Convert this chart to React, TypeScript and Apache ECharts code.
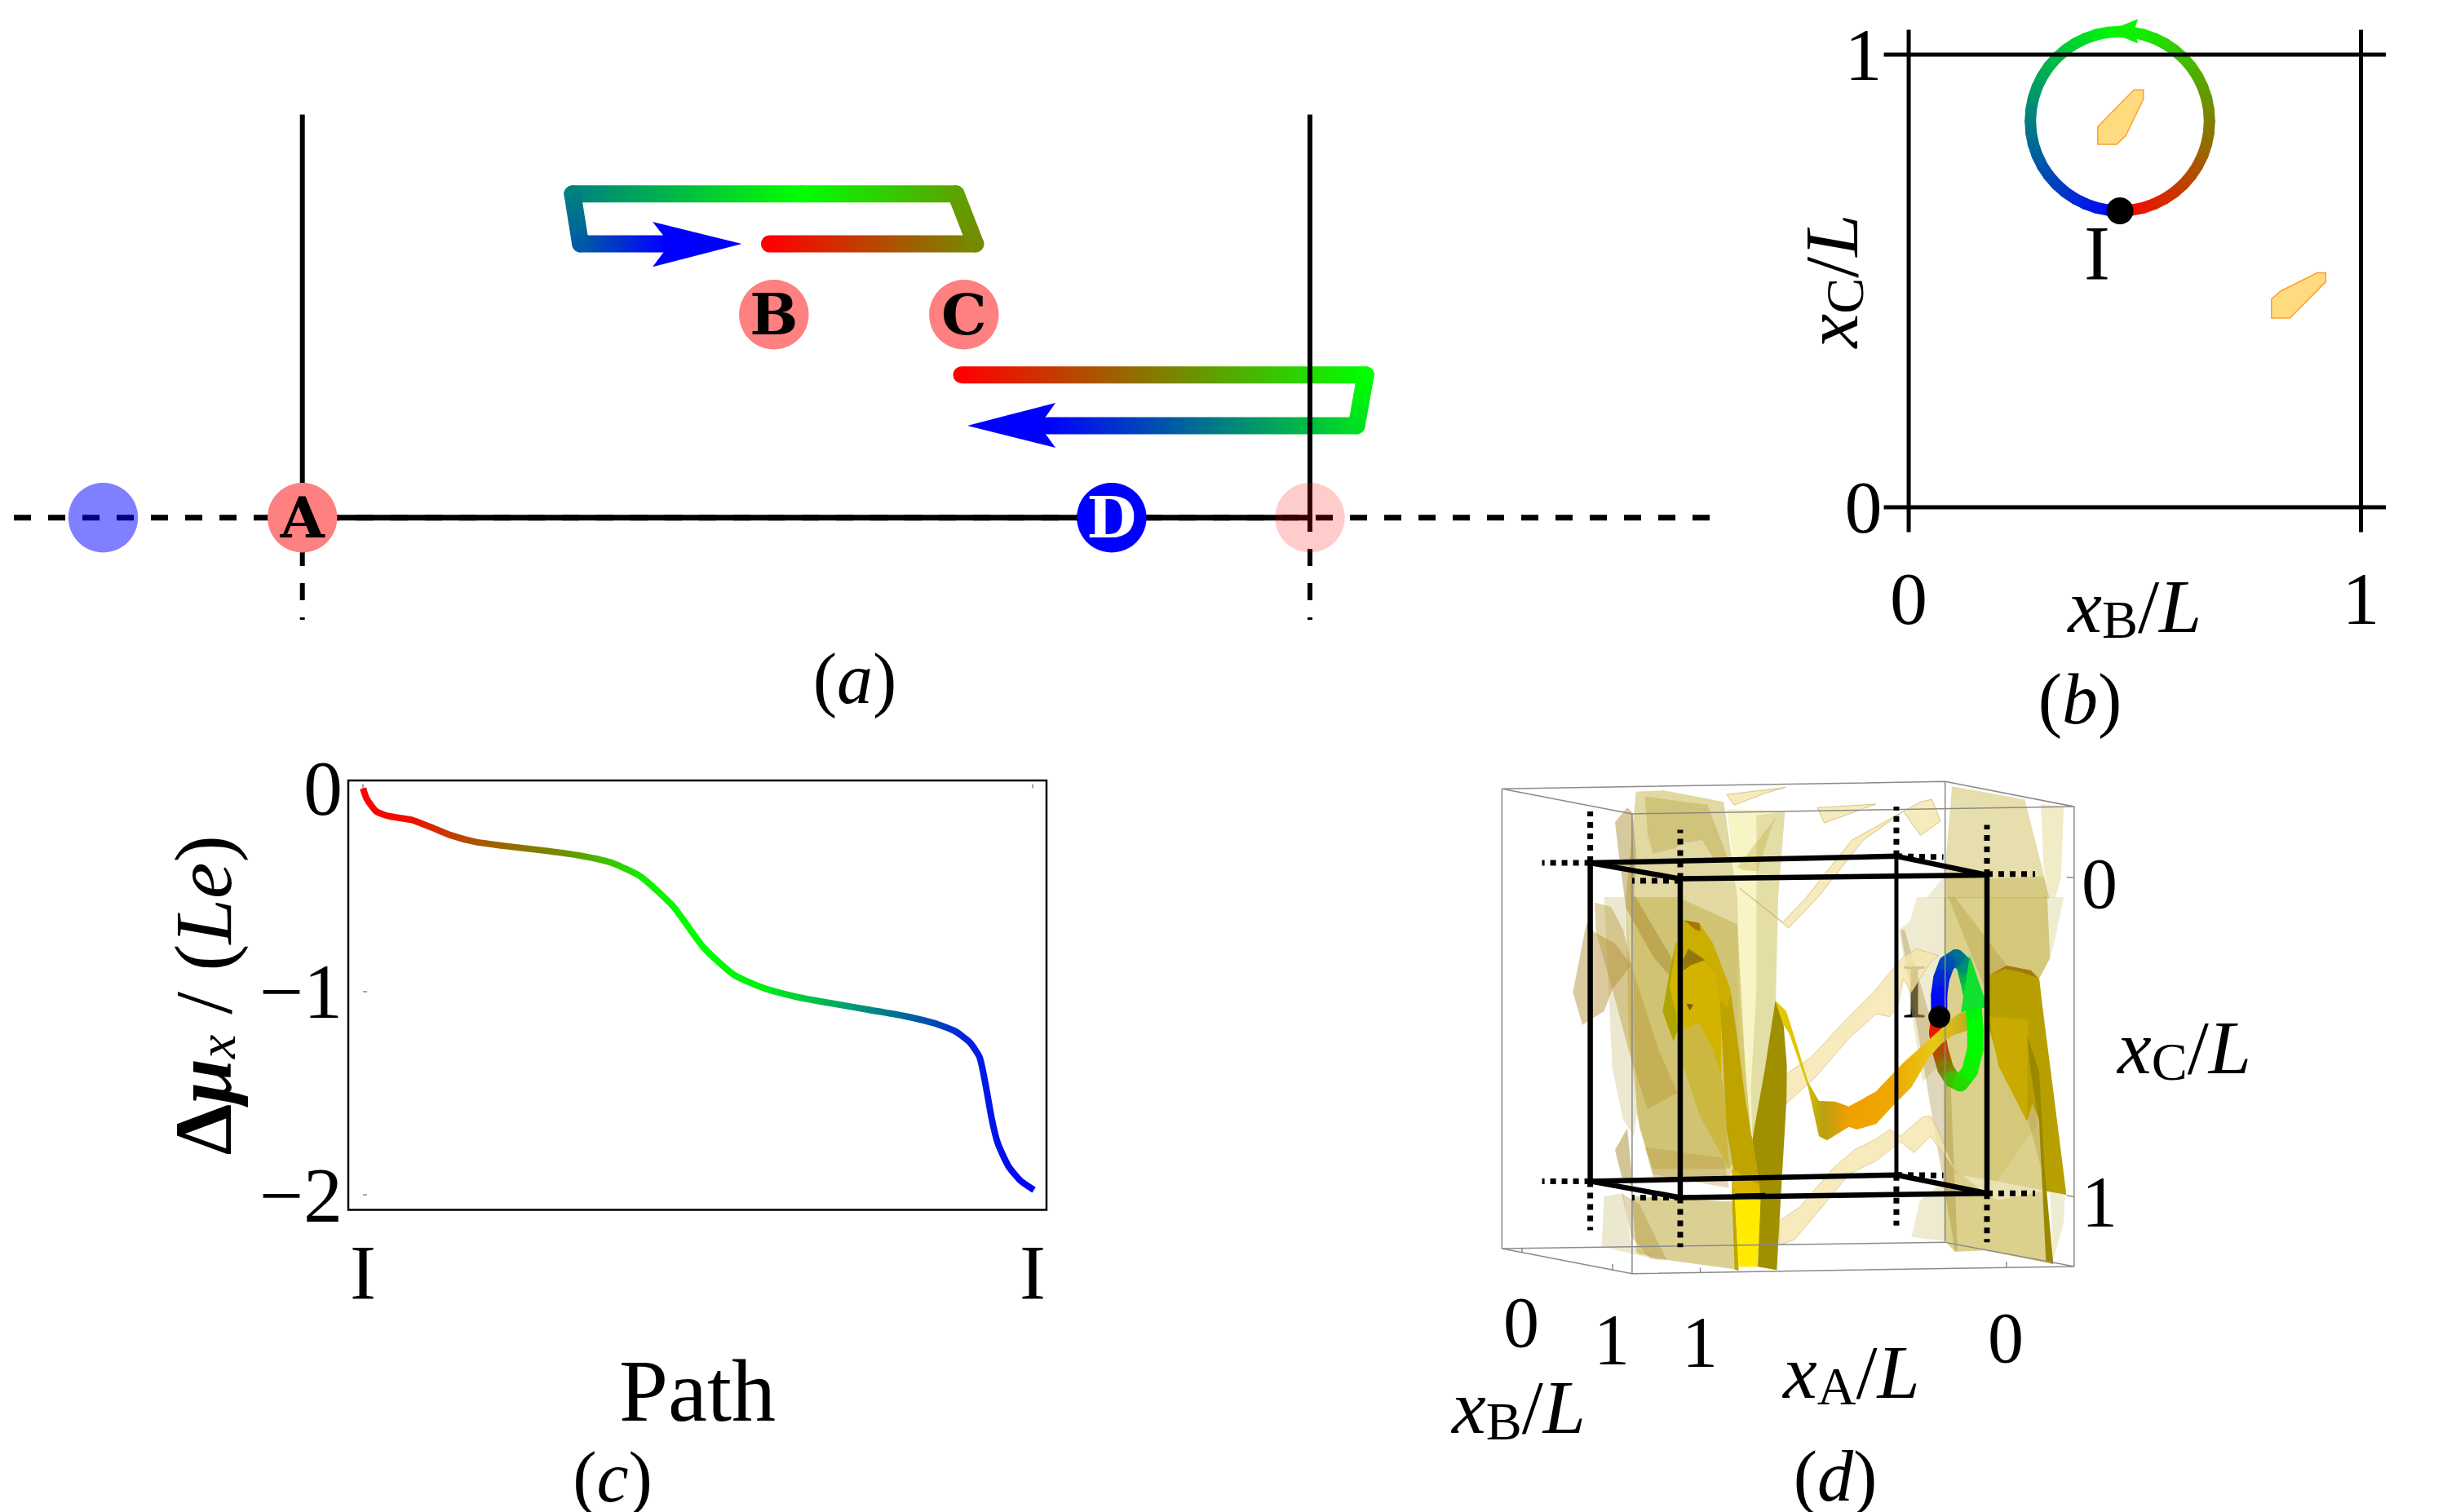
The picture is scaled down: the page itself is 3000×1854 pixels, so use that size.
import React, { useEffect, useRef } from "react";
import * as echarts from "echarts";

const SERIF = "Liberation Serif";

// ---------- panel (a): positions in units of L, heights in the same units ----------
const aBaseX = [0, 1];
const aDashedX = [-0.2863, 1.4015];
const aWallTop = 0.4;
const aWallSolidEnd = -0.014;
const aWallDashes = [[-0.031, -0.048], [-0.065, -0.082], [-0.099, -0.1015]];
const aPathOne = [[0.4636, 0.2718, 0], [0.668, 0.2718, 0.27], [0.6487, 0.3213, 0.32], [0.4953, 0.3213, 0.5], [0.2681, 0.3213, 0.75], [0.276, 0.2718, 0.82], [0.359, 0.2718, 1]];
const aPathTwo = [[0.6543, 0.1417, 0], [1.0553, 0.1417, 0.5], [1.0463, 0.0913, 0.56], [0.7395, 0.0913, 1]];
const aArrowOne = [[0.4362, 0.2718], [0.3476, 0.2936], [0.3647, 0.2718], [0.3476, 0.249]];
const aArrowTwo = [[0.66, 0.0913], [0.7475, 0.114], [0.7316, 0.0913], [0.7475, 0.0694]];
const aCircleX = [-0.1977, 0, 0.468, 0.6566, 0.8032, 1];
const aCircleY = [0, 0, 0.2015, 0.2015, 0, 0];
const aCircleLabels = ["", "A", "B", "C", "D", ""];
const aCircleColors = ["rgba(0,0,255,0.5)", "#ff8080", "#ff8080", "#ff8080", "#0000ff", "rgba(255,0,0,0.2)"];
const aLabelColors = ["#000", "#000", "#000", "#000", "#fff", "#000"];

// ---------- panel (b) ----------
const bTicks = [0, 1];
const bFrameH = [[[-0.055, 0], [1.055, 0]], [[-0.055, 1], [1.055, 1]]];
const bFrameV = [[[0, -0.055], [0, 1.055]], [[1, -0.055], [1, 1.055]]];
const bLoopX = [
  0.467, 0.4928, 0.5183, 0.5428, 0.566, 0.5875, 0.607, 0.6241, 0.6385, 0.6499, 0.6583, 0.6633, 0.665,
  0.6633, 0.6583, 0.6499, 0.6385, 0.6241, 0.607, 0.5875, 0.566, 0.5428, 0.5183, 0.4928, 0.467,
  0.4412, 0.4157, 0.3912, 0.368, 0.3465, 0.327, 0.3099, 0.2955, 0.2841, 0.2757, 0.2707, 0.269,
  0.2707, 0.2757, 0.2841, 0.2955, 0.3099, 0.327, 0.3465, 0.368, 0.3912, 0.4157, 0.4412, 0.467,
];
const bLoopY = [
  0.655, 0.6567, 0.6617, 0.6701, 0.6815, 0.6959, 0.713, 0.7325, 0.754, 0.7772, 0.8017, 0.8272, 0.853,
  0.8788, 0.9043, 0.9288, 0.952, 0.9735, 0.993, 1.0101, 1.0245, 1.0359, 1.0443, 1.0493, 1.051,
  1.0493, 1.0443, 1.0359, 1.0245, 1.0101, 0.993, 0.9735, 0.952, 0.9288, 0.9043, 0.8788, 0.853,
  0.8272, 0.8017, 0.7772, 0.754, 0.7325, 0.713, 0.6959, 0.6815, 0.6701, 0.6617, 0.6567, 0.655,
];
const bArrow = [[0.44, 1.052], [0.507, 1.079], [0.498, 1.052], [0.507, 1.025]];
const bPatchOne = [[0.498, 0.922], [0.519, 0.922], [0.519, 0.902], [0.48, 0.821], [0.46, 0.802], [0.418, 0.802], [0.418, 0.841]];
const bPatchTwo = [[0.903, 0.518], [0.922, 0.518], [0.922, 0.498], [0.843, 0.418], [0.802, 0.418], [0.802, 0.46], [0.823, 0.478]];
const bPoint = [0.467, 0.655];

// ---------- panel (c) ----------
const cX = [0, 0.006, 0.02, 0.038, 0.073, 0.1, 0.132, 0.167, 0.212, 0.275, 0.324, 0.369, 0.414, 0.463, 0.508, 0.554, 0.6, 0.646, 0.696, 0.754, 0.808, 0.852, 0.884, 0.906, 0.921, 0.93, 0.939, 0.948, 0.964, 0.982, 1.002];
const cY = [0, -0.054, -0.114, -0.137, -0.156, -0.189, -0.232, -0.263, -0.284, -0.308, -0.331, -0.364, -0.433, -0.58, -0.781, -0.918, -0.985, -1.025, -1.056, -1.089, -1.12, -1.155, -1.195, -1.25, -1.325, -1.463, -1.628, -1.747, -1.86, -1.931, -1.976];
const cYTicks = [0, -1, -2];
const cXTicks = [0, 1];

// ---------- panel (d): coarse picture units (grid 3) ----------
const dWire = [
  [[130, 63], [903, 48], [1128, 100], [357, 115], [130, 63]],
  [[130, 1018], [357, 1070], [1128, 1055], [903, 1005]],
  [[130, 1018], [903, 1005]],
  [[130, 63], [130, 1018]], [[357, 115], [357, 1070]], [[1128, 100], [1128, 1055]], [[903, 48], [903, 1005]],
  [[1128, 247], [1115, 247]], [[1128, 910], [1115, 908]], [[165, 1018], [165, 1026]], [[323, 1050], [323, 1063]], [[476, 1058], [476, 1067]], [[1010, 1045], [1010, 1056]],
];
const dBoxSolid = [
  [[284, 217], [818, 203], [976, 242], [441, 250], [284, 217]],
  [[284, 878], [818, 865], [976, 903], [441, 912], [284, 878]],
  [[284, 217], [284, 878]],
];
const dBoxFront = [[[441, 250], [441, 912]], [[976, 242], [976, 903]]];
const dBoxThin = [[[818, 203], [818, 865]]];
const dBoxDotted = [
  [[284, 215], [284, 110]], [[284, 878], [284, 980]], [[441, 250], [441, 148]], [[441, 912], [441, 1015]],
  [[818, 203], [818, 100]], [[818, 865], [818, 970]], [[976, 242], [976, 138]], [[976, 903], [976, 1005]],
  [[284, 217], [200, 217]], [[441, 254], [357, 254]], [[818, 203], [900, 205]], [[976, 240], [1060, 240]],
  [[284, 878], [200, 878]], [[441, 912], [357, 912]], [[818, 865], [900, 866]], [[976, 903], [1060, 903]],
];
const dUpperRight = [
  [[915, 58], [1042, 85], [1075, 240], [1085, 290], [905, 290], [905, 200]],
  [[905, 240], [975, 250], [1075, 245], [1085, 290], [905, 290]],
  [[1070, 95], [1110, 100], [1105, 250], [1095, 290], [1085, 290], [1075, 230]],
  [[870, 290], [905, 240], [905, 290]],
];
const dUpperRightColors = ["rgba(205,190,90,0.5)", "rgba(185,165,60,0.35)", "rgba(228,218,140,0.5)", "rgba(215,205,140,0.4)"];
const dUpperRibbons = [
  [[545, 270], [620, 340], [660, 290], [740, 170], [860, 90], [880, 85], [895, 130], [860, 160], [830, 110], [760, 170], [680, 290], [630, 352]],
  [[522, 75], [625, 60], [590, 72], [535, 97]],
  [[680, 102], [782, 95], [720, 122], [692, 134]],
];
const dPointI = [893, 537];

// ---------- panel (d): fine picture units (grid 4) ----------
const dFineSheets = [
  [[317, -388], [420, -392], [640, -350], [690, 0], [700, 400], [720, 640], [740, 880], [660, 1000], [380, 1000], [330, 850], [290, 500], [280, 0], [300, -200]],
  [[650, -325], [865, -315], [840, 0], [832, 340], [830, 650], [745, 880], [690, 600], [690, 0]],
  [[760, -300], [865, -315], [840, 0], [832, 340], [830, 650], [745, 880], [740, 700], [760, 350]],
  [[300, 0], [470, 0], [690, 100], [720, 640], [740, 880], [660, 1030], [380, 1030], [320, 800]],
  [[200, 0], [280, 0], [330, 700], [310, 880], [270, 820], [230, 630]],
  [[165, 20], [225, 35], [270, 120], [300, 250], [400, 560], [470, 720], [360, 780], [300, 600], [230, 340], [170, 130]],
  [[135, 95], [165, 130], [240, 170], [300, 250], [230, 340], [200, 420], [120, 470], [85, 350]],
  [[240, -275], [285, -330], [305, -310], [317, -160], [310, -10], [440, 210], [520, 380], [380, 220], [280, 40], [250, -190]],
  [[350, -370], [580, -340], [660, -130], [610, -130], [560, -210], [500, -200], [460, -180], [380, -160], [360, -230]],
  [[835, -298], [690, -110], [710, -100], [765, -95], [810, -240]],
  [[200, 1100], [270, 1090], [300, 1280], [420, 1340], [190, 1285]],
  [[300, 1100], [670, 1120], [690, 1370], [430, 1335], [320, 1310]],
  [[265, 1090], [330, 1130], [430, 1335], [370, 1330], [300, 1250]],
  [[240, 930], [285, 850], [300, 1000], [300, 1060], [265, 1030]],
  [[350, 920], [640, 960], [660, 1070], [380, 1020]],
  [[1350, 0], [1450, 0], [1450, 600], [1370, 680], [1285, 120], [1325, 90]],
  [[1360, 1120], [1450, 1040], [1450, 1265], [1330, 1250]],
  [[1450, 0], [1830, 0], [1840, 225], [1800, 300], [1900, 1095], [1810, 1080], [1850, 1350], [1600, 1300], [1490, 1305], [1450, 1260]],
  [[1610, 0], [1830, 0], [1840, 225], [1800, 300], [1820, 800], [1610, 1090]],
  [[1830, 0], [1890, 0], [1860, 150], [1840, 225]],
  [[1840, 1085], [1895, 1095], [1890, 1200], [1850, 1340]],
  [[1520, 1025], [1620, 1040], [1820, 1080], [1650, 1115], [1610, 1095]],
  [[1290, 120], [1305, 120], [1475, 700], [1500, 1300], [1490, 1300]],
  [[1465, 0], [1490, 0], [1680, 250], [1810, 900], [1825, 1060], [1680, 530]],
];
const dFineSheetColors = [
  "rgba(196,178,70,0.5)", "rgba(240,235,150,0.55)", "rgba(190,180,110,0.35)", "rgba(190,170,60,0.45)", "rgba(200,190,120,0.35)",
  "rgba(180,150,50,0.42)", "rgba(180,145,55,0.48)", "rgba(165,135,40,0.45)", "rgba(175,155,40,0.32)", "rgba(190,170,60,0.35)",
  "rgba(200,190,120,0.35)", "rgba(190,170,60,0.55)", "rgba(170,140,50,0.35)", "rgba(170,140,50,0.5)", "rgba(180,150,60,0.35)",
  "rgba(215,205,140,0.4)", "rgba(215,205,140,0.4)", "rgba(200,185,80,0.65)", "rgba(190,175,70,0.25)", "rgba(215,210,140,0.4)",
  "rgba(215,210,140,0.4)", "rgba(238,232,195,0.75)", "rgba(150,120,30,0.3)", "rgba(170,140,40,0.3)",
];
const dFineRibbons = [
  [[870, 650], [960, 590], [1100, 440], [1200, 340], [1240, 290], [1300, 220], [1350, 190], [1430, 215], [1400, 240], [1330, 350], [1300, 300], [1280, 400], [1250, 440], [1200, 430], [1100, 520], [980, 660], [870, 760]],
  [[845, 1190], [920, 1140], [1040, 1000], [1120, 930], [1200, 890], [1250, 855], [1290, 880], [1370, 810], [1400, 805], [1430, 860], [1470, 960], [1500, 1020], [1460, 960], [1400, 880], [1340, 940], [1290, 900], [1200, 970], [1100, 1020], [1010, 1130], [900, 1260], [845, 1280]],
];
const dFineSolids = [
  [[470, 490], [550, 465], [600, 560], [640, 700], [660, 1000], [550, 800], [470, 560]],
  [[490, 235], [570, 230], [610, 290], [630, 380], [630, 660], [600, 560], [550, 465], [470, 490], [455, 530], [415, 420], [440, 310], [465, 160]],
  [[490, 85], [550, 95], [600, 170], [665, 340], [650, 405], [625, 380], [610, 290], [570, 235], [490, 235]],
  [[465, 160], [455, 240], [440, 330], [465, 430], [470, 490], [455, 530], [415, 420], [440, 280]],
  [[625, 375], [650, 405], [665, 345], [690, 520], [720, 750], [750, 920], [770, 1060], [720, 1075], [680, 1080], [675, 1000], [650, 850], [640, 640]],
  [[495, 85], [550, 95], [555, 125], [535, 120]],
  [[490, 230], [510, 190], [572, 232], [520, 250], [492, 270]],
  [[503, 392], [528, 395], [515, 418]],
  [[670, 1000], [770, 1060], [775, 1115], [680, 1100]],
  [[680, 1100], [775, 1115], [765, 1360], [695, 1360]],
  [[670, 1000], [680, 1100], [695, 1375], [680, 1370], [670, 1100]],
  [[830, 380], [860, 470], [872, 620], [870, 760], [850, 1100], [835, 1372], [765, 1360], [775, 1120], [770, 1060], [745, 890], [790, 640]],
  [[1615, 290], [1680, 252], [1770, 270], [1800, 300], [1815, 430], [1850, 700], [1900, 1095], [1820, 1080], [1805, 830], [1775, 760], [1755, 825], [1650, 600], [1615, 480]],
  [[1615, 440], [1760, 450], [1755, 825], [1650, 620]],
  [[1755, 510], [1800, 640], [1820, 1000], [1852, 1350], [1825, 1340], [1800, 830], [1770, 650]],
  [[1620, 285], [1680, 252], [1770, 270], [1795, 298], [1730, 275], [1675, 265]],
];
const dFineSolidColors = ["rgba(200,176,30,0.6)", "#d2b400", "#ccae00", "#b0a400", "#bfa400", "#a8740a", "#92780c", "#8a5000", "#dcb400", "#ffea00", "#bfa600", "#a09000", "#b89f00", "#c8aa00", "#9a8800", "#a07a10"];
const dFineFrontLine = [[680, 1100], [793, 1098]];
const dFineBand = [[830, 380], [870, 420], [905, 530], [950, 680], [990, 750], [1050, 752], [1100, 770], [1200, 715], [1300, 610], [1400, 520], [1500, 430], [1535, 420], [1538, 490], [1480, 510], [1440, 540], [1395, 590], [1330, 700], [1260, 770], [1200, 835], [1130, 855], [1100, 845], [1020, 895], [990, 880], [950, 700], [880, 500], [860, 470]];
const dFineRingBack = [[1432, 440, 0], [1425, 500, 0.05], [1435, 560, 0.14], [1455, 630, 0.24], [1480, 670, 0.36]];
const dFineRingFront = [[1480, 670, 0.36], [1510, 685, 0.42], [1545, 640, 0.47], [1565, 560, 0.49], [1565, 490, 0.5], [1560, 420, 0.52], [1545, 330, 0.6], [1525, 250, 0.72], [1495, 222, 0.78], [1460, 245, 0.85], [1440, 300, 0.92], [1432, 360, 0.98], [1432, 440, 1]];
const dFineArrow = [[1545, 215], [1612, 410], [1565, 405], [1512, 425]];

const dTickLabels = ["0", "1", "0", "1", "1", "0"];
const dTickLabelX = [2574, 2574, 1865, 1976, 2084, 2459];
const dTickLabelY = [1083, 1473, 1621, 1642, 1645, 1640];
const captionLetters = ["a", "b", "c", "d"];
const captionX = [1048, 2550, 751, 2250];
const captionY = [832, 857, 1811, 1810];

const ramp = (t: number) => {
  const u = Math.max(0, Math.min(1, t));
  const r = u < 0.5 ? 1 - 2 * u : 0;
  const g = u < 0.5 ? 2 * u : 2 - 2 * u;
  const b = u < 0.5 ? 0 : 2 * u - 1;
  return `rgb(${Math.round(r * 255)},${Math.round(g * 255)},${Math.round(b * 255)})`;
};

const line = (g: number, pts: any[], width: number, color = "#000", type: any = "solid", cap = "butt") => ({
  type: "line", xAxisIndex: g, yAxisIndex: g, data: pts, symbol: "none", clip: false, silent: true,
  lineStyle: { width, color, type, cap, join: "round" },
});

const polygon = (g: number, pts: number[][], fill: any, stroke: any = "none", lineWidth = 0) => ({
  type: "custom", xAxisIndex: g, yAxisIndex: g, data: pts, silent: true, clip: false,
  encode: { x: 0, y: 1 },
  renderItem: (params: any, api: any) =>
    params.dataIndex === 0
      ? { type: "polygon", shape: { points: pts.map((p) => api.coord(p)) }, style: { fill, stroke, lineWidth } }
      : null,
});

const gradientPath = (g: number, pts: number[][], width: number) => ({
  type: "custom", xAxisIndex: g, yAxisIndex: g, data: pts, silent: true, clip: false,
  encode: { x: 0, y: 1 },
  renderItem: (params: any, api: any) => {
    const i = params.dataIndex;
    if (i === 0) return null;
    const a = api.coord(pts[i - 1]);
    const b = api.coord(pts[i]);
    const stroke = new echarts.graphic.LinearGradient(a[0], a[1], b[0], b[1], [
      { offset: 0, color: ramp(pts[i - 1][2]) },
      { offset: 1, color: ramp(pts[i][2]) },
    ], true);
    return { type: "line", shape: { x1: a[0], y1: a[1], x2: b[0], y2: b[1] }, style: { stroke, lineWidth: width, lineCap: "round", fill: "none" } };
  },
});

const mathRich = (size: number, sub: number) => ({
  i: { fontFamily: SERIF, fontStyle: "italic", fontSize: size, color: "#000" },
  s: { fontFamily: SERIF, fontSize: sub, color: "#000", padding: [Math.round(size * 0.36), 0, 0, 0] },
  r: { fontFamily: SERIF, fontSize: size, color: "#000" },
});

const mathText = (letter: string, x: number, y: number) => ({
  type: "text", x, y,
  style: { text: `{i|x}{s|${letter}}{r|/}{i|L}`, rich: mathRich(94, 66), align: "center", verticalAlign: "middle", fontFamily: SERIF, fontSize: 94, fill: "#000" },
});

const plainText = (text: string, x: number, y: number, size: number) => ({
  type: "text", x, y,
  style: { text, align: "center", verticalAlign: "middle", fontFamily: SERIF, fontSize: size, fill: "#000" },
});

const caption = (letter: string, x: number, y: number) => ({
  type: "text", x, y,
  style: {
    text: `{r|(}{i|${letter}}{r|)}`,
    rich: { r: { fontFamily: SERIF, fontSize: 88, color: "#000" }, i: { fontFamily: SERIF, fontStyle: "italic", fontSize: 88, color: "#000" } },
    align: "center", verticalAlign: "middle", fontFamily: SERIF, fontSize: 88, fill: "#000",
  },
});

const cGradient = new echarts.graphic.LinearGradient(0, 0, 1, 0, [
  { offset: 0, color: "#ff0000" }, { offset: 0.06, color: "#f50a00" }, { offset: 0.16, color: "#b04f00" }, { offset: 0.3, color: "#6f8f00" },
  { offset: 0.42, color: "#10ee00" }, { offset: 0.5, color: "#00ff00" }, { offset: 0.6, color: "#00ee10" }, { offset: 0.72, color: "#00a070" },
  { offset: 0.82, color: "#0060a0" }, { offset: 0.9, color: "#0020e0" }, { offset: 1, color: "#0000ff" },
]);

const bandGradient = new echarts.graphic.LinearGradient(0, 0, 1, 0, [
  { offset: 0, color: "#e8c800" }, { offset: 0.14, color: "#e0c400" }, { offset: 0.25, color: "#b8a010" }, { offset: 0.38, color: "#f0a000" },
  { offset: 0.62, color: "#f0a800" }, { offset: 0.82, color: "#e8c818" }, { offset: 1, color: "#c4ac20" },
]);

const hiddenAxis = (gridIndex: number, min: number, max: number, inverse = false) => ({
  type: "value", gridIndex, min, max, inverse, show: false, splitLine: { show: false },
});

const buildOption = () => {
  const series: any[] = [];
  // panel (a)
  series.push(line(0, aDashedX.map((x) => [x, 0]), 7, "#000", [21, 21]));
  series.push(line(0, aBaseX.map((x) => [x, 0]), 7));
  aBaseX.forEach((x) => {
    series.push(line(0, [[x, aWallTop], [x, aWallSolidEnd]], 6));
    aWallDashes.forEach((d) => series.push(line(0, d.map((y) => [x, y]), 6)));
  });
  series.push(gradientPath(0, aPathOne, 21));
  series.push(polygon(0, aArrowOne, "#0000ff"));
  series.push(gradientPath(0, aPathTwo, 21));
  series.push(polygon(0, aArrowTwo, "#0000ff"));
  series.push({
    type: "scatter", xAxisIndex: 0, yAxisIndex: 0, symbol: "circle", symbolSize: 85.5, silent: true, clip: false, z: 3,
    data: aCircleX.map((x, i) => ({
      value: [x, aCircleY[i]],
      itemStyle: { color: aCircleColors[i], opacity: 1 },
      label: {
        show: aCircleLabels[i] !== "", position: "inside", formatter: aCircleLabels[i], fontFamily: "DejaVu Serif", fontWeight: "bold",
        fontSize: 70, color: aLabelColors[i], textBorderWidth: 0, textBorderColor: "transparent", opacity: 1,
      },
    })),
  });
  // panel (b)
  bFrameH.concat(bFrameV).forEach((pts) => series.push(line(1, pts, 5)));
  series.push(polygon(1, bPatchOne, "#ffdb80", "#ff9e2a", 1.5));
  series.push(polygon(1, bPatchTwo, "#ffdb80", "#ff9e2a", 1.5));
  series.push(gradientPath(1, bLoopX.map((x, i) => [x, bLoopY[i], i / (bLoopX.length - 1)]), 14));
  series.push(polygon(1, bArrow, "#10f000"));
  series.push({ type: "scatter", xAxisIndex: 1, yAxisIndex: 1, symbol: "circle", symbolSize: 33, silent: true, clip: false, z: 3, itemStyle: { color: "#000", opacity: 1 }, data: [bPoint] });
  // panel (c)
  series.push({
    type: "line", xAxisIndex: 2, yAxisIndex: 2, symbol: "none", silent: true, smooth: 0.2,
    data: cX.map((x, i) => [x, cY[i]]),
    lineStyle: { width: 8, color: cGradient, join: "round" },
  });
  // panel (d)
  dUpperRight.forEach((pts, i) => series.push(polygon(3, pts, dUpperRightColors[i])));
  dFineSheets.forEach((pts, i) => series.push(polygon(4, pts, dFineSheetColors[i])));
  dUpperRibbons.forEach((pts) => series.push(polygon(3, pts, "rgba(242,228,165,0.75)", "rgba(200,160,80,0.6)", 1)));
  dFineRibbons.forEach((pts) => series.push(polygon(4, pts, "rgba(245,230,170,0.78)", "rgba(205,170,100,0.55)", 1)));
  dWire.forEach((pts) => series.push(line(3, pts, 1.5, "#8a8a8a")));
  dBoxThin.forEach((pts) => series.push(line(3, pts, 5)));
  dBoxSolid.forEach((pts) => series.push(line(3, pts, 6.5)));
  dBoxDotted.forEach((pts) => series.push(line(3, pts, 7, "#000", [7, 7])));
  dFineSolids.forEach((pts, i) => series.push(polygon(4, pts, dFineSolidColors[i])));
  dBoxFront.forEach((pts) => series.push(line(3, pts, 6.5)));
  series.push(line(4, dFineFrontLine, 6.5));
  series.push(gradientPath(4, dFineRingBack, 20));
  series.push(polygon(4, dFineBand, bandGradient));
  series.push(gradientPath(4, dFineRingFront, 20));
  series.push(polygon(4, dFineArrow, "#10e030"));
  series.push({ type: "scatter", xAxisIndex: 3, yAxisIndex: 3, symbol: "circle", symbolSize: 27, silent: true, clip: false, z: 4, itemStyle: { color: "#000", opacity: 1 }, data: [dPointI] });

  const bRich = mathRich(94, 66);
  return {
    animation: false,
    backgroundColor: "#fff",
    grid: [
      { left: 0.1, top: 140.6, width: 2100, height: 622.6 },
      { left: 2284.6, top: 11.5, width: 665.4, height: 666 },
      { left: 427, top: 957, width: 856, height: 526.5, show: true, borderColor: "#000", borderWidth: 2.5, backgroundColor: "transparent" },
      { left: 1750, top: 930, width: 1100, height: 924 },
      { left: 1750, top: 930, width: 1100, height: 924 },
    ],
    xAxis: [
      hiddenAxis(0, -0.3, 1.4),
      {
        type: "value", gridIndex: 1, min: -0.1, max: 1.1, splitLine: { show: false }, axisLine: { show: false }, axisTick: { show: false },
        axisLabel: { customValues: bTicks, fontFamily: SERIF, fontSize: 92, color: "#000", margin: 10 },
        name: "{i|x}{s|B}{r|/}{i|L}", nameLocation: "middle", nameGap: 15, nameMoveOverlap: false,
        nameTextStyle: { rich: bRich, fontFamily: SERIF, fontSize: 94 },
      },
      {
        type: "value", gridIndex: 2, min: -0.0219, max: 1.0207, splitLine: { show: false }, axisLine: { show: false },
        axisTick: { customValues: cXTicks, inside: true, length: 5, lineStyle: { color: "#888", width: 1.5 } },
        axisLabel: { customValues: cXTicks, formatter: () => "I", fontFamily: SERIF, fontSize: 96, color: "#000", margin: 29 },
        name: "Path", nameLocation: "middle", nameGap: 168, nameMoveOverlap: false,
        nameTextStyle: { fontFamily: SERIF, fontSize: 108, color: "#000" },
      },
      hiddenAxis(3, 0, 1565),
      hiddenAxis(4, -450, 2850),
    ],
    yAxis: [
      hiddenAxis(0, -0.104, 0.4),
      {
        type: "value", gridIndex: 1, min: -0.1, max: 1.1, splitLine: { show: false }, axisLine: { show: false }, axisTick: { show: false },
        axisLabel: { customValues: bTicks, fontFamily: SERIF, fontSize: 92, color: "#000", margin: 0, align: "center", padding: [20, 0, 0, 0] },
        name: "{i|x}{s|C}{r|/}{i|L}", nameLocation: "middle", nameGap: -10, nameMoveOverlap: false,
        nameTextStyle: { rich: bRich, fontFamily: SERIF, fontSize: 94 },
      },
      {
        type: "value", gridIndex: 2, min: -2.0742, max: 0.0385, splitLine: { show: false }, axisLine: { show: false },
        axisTick: { customValues: cYTicks, inside: true, length: 5, lineStyle: { color: "#888", width: 1.5 } },
        axisLabel: {
          customValues: cYTicks, formatter: (v: number) => (v === 0 ? "0" : `\u2212${Math.abs(v)}`), fontFamily: SERIF, fontSize: 96, color: "#000", margin: 7,
          padding: [36, 0, 0, 0],
        },
        name: "{d|\u0394}{m|\u03bc}{x|x}{r| / (}{i|Le}{r|)}", nameLocation: "middle", nameGap: 128, nameMoveOverlap: false,
        nameTextStyle: {
          fontFamily: SERIF, fontSize: 100,
          rich: {
            d: { fontFamily: SERIF, fontWeight: "bold", fontSize: 100, color: "#000" },
            m: { fontFamily: SERIF, fontWeight: "bold", fontStyle: "italic", fontSize: 100, color: "#000" },
            x: { fontFamily: SERIF, fontStyle: "italic", fontSize: 66, color: "#000", padding: [32, 0, 0, 0] },
            r: { fontFamily: SERIF, fontSize: 100, color: "#000" },
            i: { fontFamily: SERIF, fontStyle: "italic", fontSize: 100, color: "#000" },
          },
        },
      },
      hiddenAxis(3, 0, 1565, true),
      hiddenAxis(4, -510, 2262, true),
    ],
    graphic: {
      elements: [
        ...captionLetters.map((l, i) => caption(l, captionX[i], captionY[i])),
        ...dTickLabels.map((t, i) => plainText(t, dTickLabelX[i], dTickLabelY[i], 88)),
        mathText("C", 2678, 1284),
        mathText("A", 2270, 1682),
        mathText("B", 1862, 1725),
        plainText("I", 2571, 310, 96),
        plainText("I", 2347, 1215, 96),
      ],
    },
    series,
  };
};

export default function App() {
  const ref = useRef<HTMLDivElement>(null);
  useEffect(() => {
    if (!ref.current) return;
    const chart = echarts.init(ref.current, undefined, { renderer: "svg" });
    chart.setOption(buildOption() as any);
    return () => chart.dispose();
  }, []);
  return <div ref={ref} style={{ position: "fixed", left: 0, top: 0, width: 3000, height: 1854, background: "#fff" }} />;
}
